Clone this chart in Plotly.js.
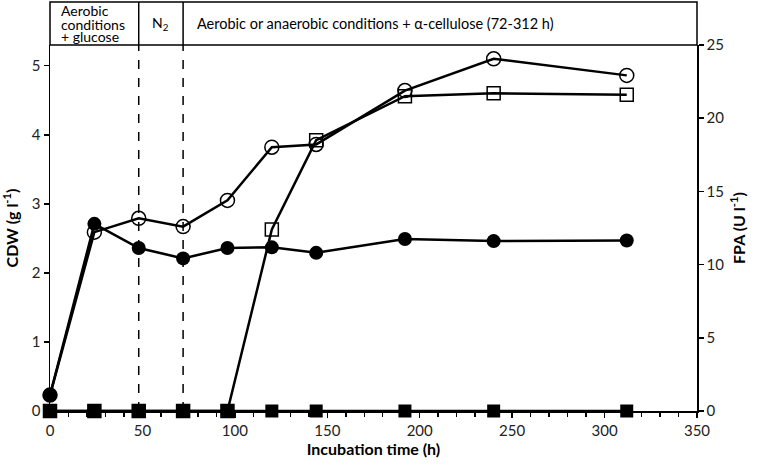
<!DOCTYPE html>
<html><head><meta charset="utf-8">
<script src="https://cdn.plot.ly/plotly-3.0.1.min.js"></script>
<style>body{margin:0;background:#fff}#c{width:761px;height:467px}</style>
</head><body><div id="c"></div>
<script>
// Data
var time = [0, 24, 48, 72, 96, 120, 144, 192, 240, 312];
var cdwOpen = [0.23, 2.59, 2.79, 2.67, 3.05, 3.82, 3.86, 4.64, 5.10, 4.86];
var cdwFilled = [0.23, 2.71, 2.36, 2.21, 2.36, 2.37, 2.29, 2.49, 2.46, 2.47];
var fpaOpen = [0, 0, 0, 0, 0, 12.4, 18.5, 21.5, 21.7, 21.6];
var fpaFilled = [0, 0, 0, 0, 0, 0, 0, 0, 0, 0];
var phaseBounds = [48, 72];
var phase1Lines = ["Aerobic", "conditions", "+ glucose"];
var phase2Label = "N<sub>2</sub>";
var phase3Label = "Aerobic or anaerobic conditions + α-cellulose (72-312 h)";

var FONT = "Lato, 'Open Sans', sans-serif";
var lw = 2.5;
var traces = [
  {x: time, y: fpaOpen, yaxis: 'y2', mode: 'lines+markers', cliponaxis: false,
   line: {color: '#000', width: lw}, marker: {symbol: 'square-open', size: 13, color: '#000', line: {width: 1.5}}},
  {x: time, y: fpaFilled, yaxis: 'y2', mode: 'lines+markers', cliponaxis: false,
   line: {color: '#000', width: lw}, marker: {symbol: 'square', size: 13, color: '#000'}},
  {x: time, y: cdwOpen, mode: 'lines+markers', cliponaxis: false,
   line: {color: '#000', width: lw}, marker: {symbol: 'circle-open', size: 14, color: '#000', line: {width: 1.5}}},
  {x: time, y: cdwFilled, mode: 'lines+markers', cliponaxis: false,
   line: {color: '#000', width: lw}, marker: {symbol: 'circle', size: 14, color: '#000'}}
];

var PH = 366;
var hTop = 1 + 43/PH;
var shapes = [
  {type: 'rect', xref: 'paper', yref: 'paper', x0: 0, x1: 1, y0: 1, y1: hTop, line: {color: '#000', width: 1.5}},
  {type: 'line', xref: 'x', yref: 'paper', x0: phaseBounds[0], x1: phaseBounds[0], y0: 1, y1: hTop, line: {color: '#000', width: 1.5}},
  {type: 'line', xref: 'x', yref: 'paper', x0: phaseBounds[1], x1: phaseBounds[1], y0: 1, y1: hTop, line: {color: '#000', width: 1.5}},
  {type: 'line', xref: 'x', yref: 'paper', x0: phaseBounds[0], x1: phaseBounds[0], y0: 0, y1: 1, line: {color: '#000', width: 1.5, dash: 'dash'}, layer: 'below'},
  {type: 'line', xref: 'x', yref: 'paper', x0: phaseBounds[1], x1: phaseBounds[1], y0: 0, y1: 1, line: {color: '#000', width: 1.5, dash: 'dash'}, layer: 'below'}
];
var hf = {family: FONT, size: 14, color: '#000'};
var ann = [];
// line centres at pixel y 11, 24, 37 (plot top at 45)
[11, 24, 37].forEach(function (py, i) {
  ann.push({xref: 'paper', yref: 'paper', x: 10/647, y: 1 + (45 - py)/PH, xanchor: 'left', yanchor: 'middle', align: 'left',
    text: phase1Lines[i], showarrow: false, font: hf, borderpad: 0});
});
ann.push({xref: 'x', yref: 'paper', x: (phaseBounds[0]+phaseBounds[1])/2, y: (1+hTop)/2, xanchor: 'center', yanchor: 'middle',
   text: phase2Label, showarrow: false, font: hf});
ann.push({xref: 'paper', yref: 'paper', x: 145/647, y: (1+hTop)/2, xanchor: 'left', yanchor: 'middle',
   text: phase3Label, showarrow: false, font: {family: FONT, size: 14.5, color: '#000'}});

var axFont = {family: FONT, size: 15, color: '#222'};
var tFont = {family: FONT, size: 16, color: '#000', weight: 'bold'};
var layout = {
  width: 761, height: 467,
  margin: {l: 50, r: 64, t: 45, b: 56},
  paper_bgcolor: '#fff', plot_bgcolor: '#fff',
  showlegend: false,
  font: {family: FONT},
  xaxis: {range: [0, 350], dtick: 50, tick0: 0, showgrid: false, zeroline: false,
    showline: true, linecolor: '#000', linewidth: 1.5, ticks: 'outside', ticklen: 5, tickcolor: '#000', tickwidth: 1.5,
    minor: {dtick: 10, ticks: 'outside', ticklen: 4, tickcolor: '#000', tickwidth: 1.5, showgrid: false},
    tickfont: axFont,
    title: {text: 'Incubation time (h)', font: tFont, standoff: 6}},
  yaxis: {range: [0, 5.3], dtick: 1, tick0: 0, showgrid: false, zeroline: false,
    showline: true, linecolor: '#000', linewidth: 1.5, ticks: 'outside', ticklen: 5, tickcolor: '#000', tickwidth: 1.5,
    tickfont: axFont,
    title: {text: 'CDW (g l<sup>-1</sup>)', font: tFont, standoff: 10}},
  yaxis2: {range: [0, 25], dtick: 5, tick0: 0, overlaying: 'y', side: 'right', showgrid: false, zeroline: false,
    showline: true, linecolor: '#000', linewidth: 1.5, ticks: 'outside', ticklen: 5, tickcolor: '#000', tickwidth: 1.5,
    tickfont: axFont,
    title: {text: 'FPA (U l<sup>-1</sup>)', font: tFont, standoff: 10}},
  shapes: shapes,
  annotations: ann
};
Plotly.newPlot('c', traces, layout, {displayModeBar: false, staticPlot: true});
</script></body></html>
